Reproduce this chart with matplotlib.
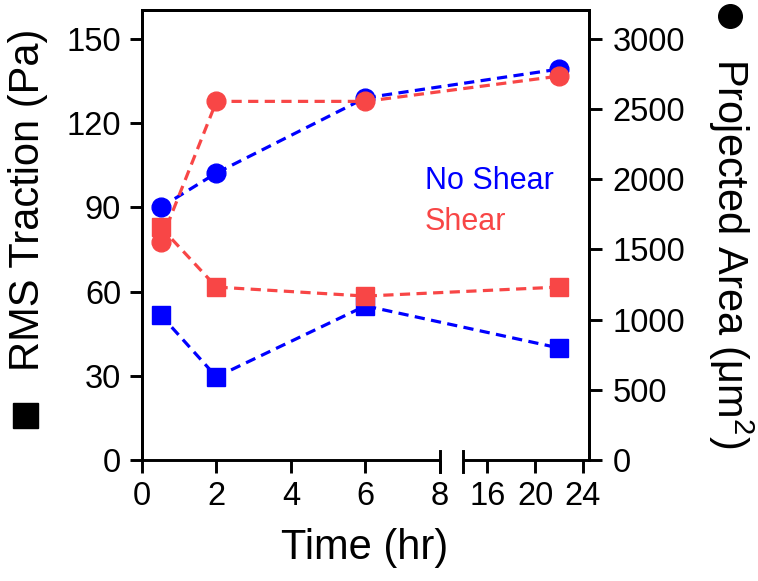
import numpy as np
import matplotlib
matplotlib.use("Agg")
import matplotlib.pyplot as plt
from matplotlib.lines import Line2D

plt.rcParams['font.family'] = ['Liberation Sans', 'DejaVu Sans']
plt.rcParams['mathtext.fontset'] = 'custom'
plt.rcParams['mathtext.rm'] = 'Liberation Sans'
plt.rcParams['mathtext.it'] = 'Liberation Sans'

# Dati
time = [0.5, 2, 6, 22]
traction_no_shear = [51.7, 29.6, 54.9, 39.9]
traction_shear = [83.0, 61.6, 58.4, 61.6]
area_no_shear = [1800, 2045, 2580, 2785]
area_shear = [1555, 2555, 2555, 2735]

x_ticks = [0, 2, 4, 6, 8, 16, 20, 24]
left_ticks = [0, 30, 60, 90, 120, 150]
right_ticks = [0, 500, 1000, 1500, 2000, 2500, 3000]

blue = '#0000FF'
red = '#F84646'

# Asse x spezzato: 0-8 lineare, poi 14-24.5 compresso
GAP = 23.5 / 37.3
K = 12 / 37.3


def fwd(x):
    x = np.asarray(x, dtype=float)
    return np.where(x <= 8, x,
                    np.where(x < 14, 8 + (x - 8) * GAP / 6,
                             8 + GAP + (x - 14) * K))


def inv(u):
    u = np.asarray(u, dtype=float)
    return np.where(u <= 8, u,
                    np.where(u < 8 + GAP, 8 + (u - 8) * 6 / GAP,
                             14 + (u - 8 - GAP) / K))


fig = plt.figure(figsize=(7.58, 5.81), dpi=100)
ax = fig.add_axes([142 / 758, 1 - 460 / 581, 447 / 758, 450 / 581])
ax.set_xscale('function', functions=(fwd, inv))
ax.set_xlim(0, 24.5)
ax.set_ylim(0, 160.3)

ax2 = ax.twinx()
ax2.set_ylim(0, 160.3 * 20)

ls = (0, (3.2, 2.0))
lw = 2.3
ms = 12.5

ax.plot(time, traction_no_shear, color=blue, ls=ls, lw=lw, marker='s', ms=ms, clip_on=False)
ax.plot(time, traction_shear, color=red, ls=ls, lw=lw, marker='s', ms=ms, clip_on=False)
ax2.plot(time, area_no_shear, color=blue, ls=ls, lw=lw, marker='o', ms=ms + 1, clip_on=False)
ax2.plot(time, area_shear, color=red, ls=ls, lw=lw, marker='o', ms=ms + 1, clip_on=False)

spine_w = 2.1
for a in (ax, ax2):
    for s in a.spines.values():
        s.set_linewidth(spine_w)
    a.spines['bottom'].set_visible(False)
    a.tick_params(width=spine_w, length=9, labelsize=23.5, direction='out', pad=6)
ax2.tick_params(axis='y', pad=8)

ax.set_xticks(x_ticks)
ax.set_xticklabels([str(t) for t in x_ticks])
ax.minorticks_off()
ax.set_yticks(left_ticks)
ax2.set_yticks(right_ticks)

# Asse x con interruzione
xt = ax.get_xaxis_transform()
ax.plot([0, 8], [0, 0], color='k', lw=spine_w, transform=xt, clip_on=False, solid_capstyle='butt')
ax.plot([14, 24.5], [0, 0], color='k', lw=spine_w, transform=xt, clip_on=False, solid_capstyle='butt')
for xb in (8, 14):
    ax.plot([xb, xb], [-12 / 450, 9 / 450], color='k', lw=spine_w, transform=xt, clip_on=False)

# Legenda come testo
ax.text(0.633, 0.62, 'No Shear', color=blue, fontsize=22, transform=ax.transAxes, va='center')
ax.text(0.633, 0.529, 'Shear', color=red, fontsize=22, transform=ax.transAxes, va='center')

# Etichette
fig.text(365 / 758, 1 - 548 / 581, 'Time (hr)', fontsize=30, ha='center', va='center')
fig.text(28 / 758, 1 - 200 / 581, 'RMS Traction (Pa)', fontsize=30, rotation=90, ha='center', va='center')
fig.text(731 / 758, 1 - 253 / 581, 'Projected Area (μm$^2$)', fontsize=30, rotation=270, ha='center', va='center')
fig.add_artist(Line2D([25 / 758], [1 - 415 / 581], marker='s', ms=18, color='k', transform=fig.transFigure))
fig.add_artist(Line2D([730 / 758], [1 - 16 / 581], marker='o', ms=17, color='k', transform=fig.transFigure))

fig.savefig('out.png', dpi=100)
